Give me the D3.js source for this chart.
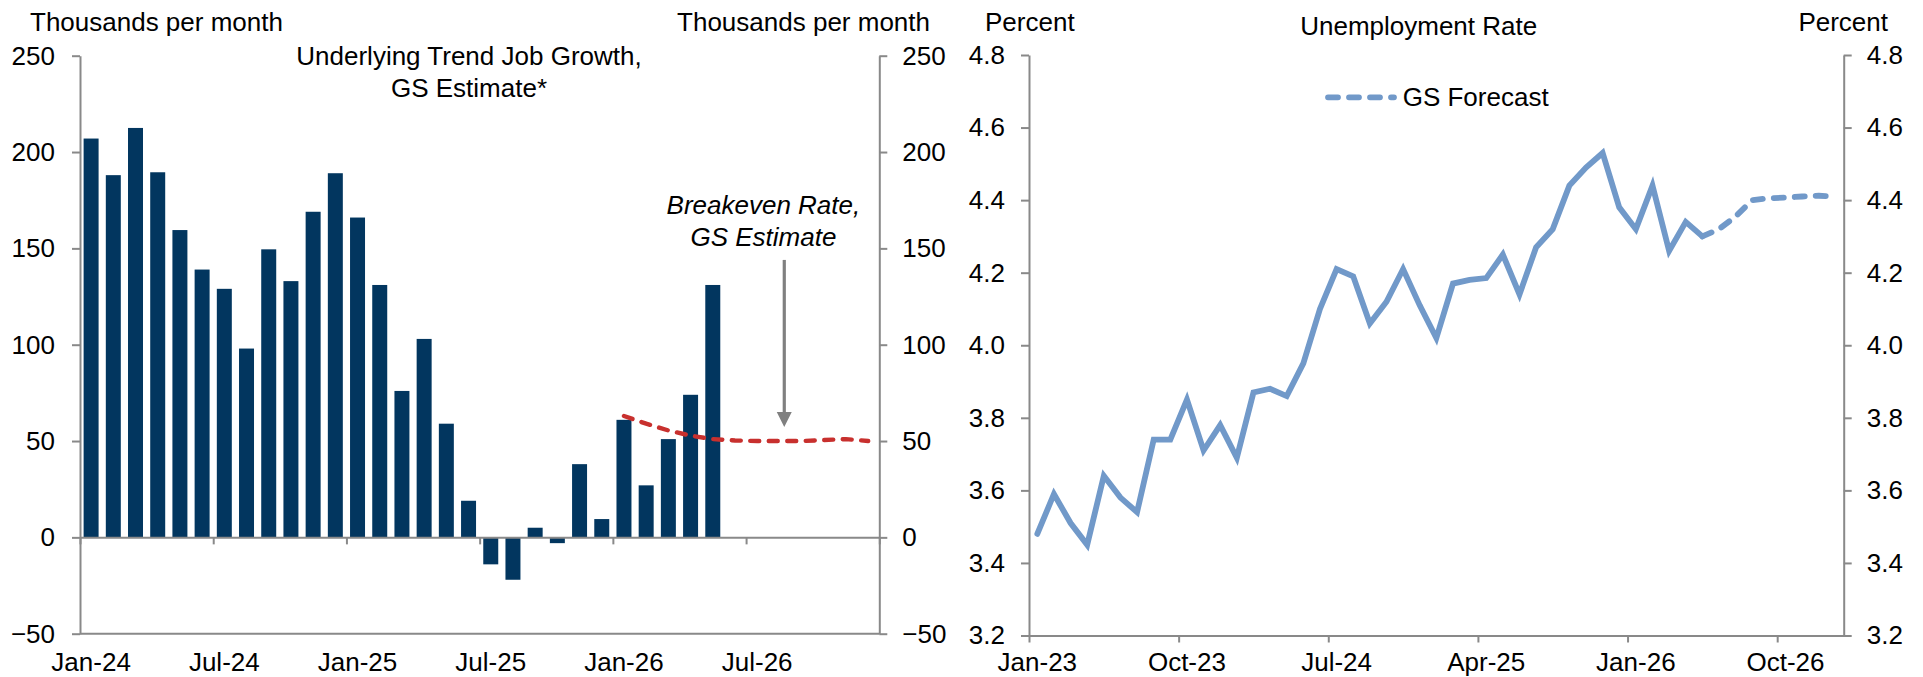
<!DOCTYPE html>
<html>
<head>
<meta charset="utf-8">
<script src="https://cdn.jsdelivr.net/npm/d3@7"></script>
<style>
  html, body { margin: 0; padding: 0; background: #fff; }
  svg { display: block; }
  text { font-family: "Liberation Sans", Arial, Helvetica, sans-serif; fill: #000; }
</style>
</head>
<body>
<svg id="chart" width="1923" height="677"></svg>
<script>
// ---- Left panel: underlying trend job growth (thousands per month) ----
const jobMonthsCount = 36;                    // Jan-24 .. Dec-26
const trendJobGrowth = [207, 188, 212.5, 189.5, 159.5, 139, 129, 98, 149.5, 133, 169, 189,
                        166, 131, 76, 103, 59, 19, -14, -22, 5, -3, 38, 9.5,
                        61, 27, 51, 74, 131];  // Jan-24 .. May-26
const breakevenStart = 24;                    // Jan-26
const breakevenRate = [63, 59, 55.5, 52.8, 51, 50.3, 50, 50, 50, 50.5, 51, 50]; // Jan-26 .. Dec-26
const jobTicks = [-50, 0, 50, 100, 150, 200, 250];
const jobXLabels = ["Jan-24", "Jul-24", "Jan-25", "Jul-25", "Jan-26", "Jul-26"];
const jobXLabelIdx = [0, 6, 12, 18, 24, 30];

// ---- Right panel: unemployment rate (percent) ----
const urMonthsCount = 49;                     // Jan-23 .. Jan-27
const unemploymentRate = [3.48, 3.59, 3.51, 3.45, 3.64, 3.58, 3.54, 3.74, 3.74, 3.85, 3.71, 3.78,
                          3.69, 3.87, 3.88, 3.86, 3.95, 4.10, 4.21, 4.19, 4.06, 4.12, 4.21, 4.11,
                          4.02, 4.17, 4.18, 4.185, 4.25, 4.14, 4.27, 4.32, 4.44, 4.49, 4.53, 4.38,
                          4.32, 4.44, 4.26, 4.34, 4.30];   // Jan-23 .. May-26
const forecastStart = 40;                     // May-26
const gsForecast = [4.30, 4.32, 4.355, 4.40, 4.405, 4.407, 4.41, 4.412, 4.41]; // May-26 .. Jan-27
const urTicks = [3.2, 3.4, 3.6, 3.8, 4.0, 4.2, 4.4, 4.6, 4.8];
const urXLabels = ["Jan-23", "Oct-23", "Jul-24", "Apr-25", "Jan-26", "Oct-26"];
const urXLabelIdx = [0, 9, 18, 27, 36, 45];

// ---- styling ----
const FONT = 26;
const AXIS = "#898989";
const NAVY = "#02365f";
const RED = "#c8302e";
const BLUE = "#7199c9";

const svg = d3.select("#chart");

function styleAxis(g) {
  g.select(".domain").attr("stroke", AXIS).attr("stroke-width", 2);
  g.selectAll(".tick line").attr("stroke", AXIS).attr("stroke-width", 2);
  g.selectAll(".tick text").attr("font-size", FONT).attr("fill", "#000")
    .attr("font-family", "Liberation Sans, Arial, sans-serif");
}

// ================= Left panel =================
{
  const L = 80, R = 879.3, T = 55.7, B = 633.7;
  const x = d3.scaleLinear().domain([0, jobMonthsCount]).range([L, R]);
  const y = d3.scaleLinear().domain([-50, 250]).range([B, T]);
  const step = x(1) - x(0);
  const barW = step * 0.675;
  const g = svg.append("g");

  // bars
  g.selectAll("rect.bar").data(trendJobGrowth).join("rect")
    .attr("class", "bar")
    .attr("x", (d, i) => x(i + 0.5) - barW / 2)
    .attr("width", barW)
    .attr("y", d => y(Math.max(0, d)))
    .attr("height", d => Math.abs(y(d) - y(0)))
    .attr("fill", NAVY);

  // bottom frame line at -50
  g.append("line").attr("x1", L).attr("x2", R).attr("y1", y(-50)).attr("y2", y(-50))
    .attr("stroke", AXIS).attr("stroke-width", 2);

  // category axis along zero
  const xAxis = d3.axisBottom(x).tickValues(jobXLabelIdx.concat([jobMonthsCount]))
    .tickFormat("").tickSize(7).tickSizeOuter(0);
  g.append("g").attr("transform", `translate(0,${y(0)})`).call(xAxis).call(styleAxis);

  // month labels centred on their category
  g.selectAll("text.xl").data(jobXLabels).join("text")
    .attr("class", "xl")
    .attr("x", (d, i) => x(jobXLabelIdx[i] + 0.5))
    .attr("y", 671)
    .attr("text-anchor", "middle")
    .attr("font-size", FONT)
    .text(d => d);

  // y axes (left and right)
  const fmt = d3.format("d");
  g.append("g").attr("transform", `translate(${L},0)`)
    .call(d3.axisLeft(y).tickValues(jobTicks).tickFormat(fmt).tickSize(8).tickPadding(17).tickSizeOuter(0))
    .call(styleAxis);
  g.append("g").attr("transform", `translate(${R},0)`)
    .call(d3.axisRight(y).tickValues(jobTicks).tickFormat(fmt).tickSize(8).tickPadding(15).tickSizeOuter(0))
    .call(styleAxis);

  // breakeven estimate (dashed)
  const line = d3.line().x((d, i) => x(breakevenStart + i + 0.5)).y(d => y(d));
  g.append("path").datum(breakevenRate)
    .attr("d", line)
    .attr("fill", "none")
    .attr("stroke", RED)
    .attr("stroke-width", 4.4)
    .attr("stroke-linecap", "round")
    .attr("stroke-dasharray", "9,9.5");

  // arrow pointing at the breakeven line
  const ax = x(31.72);
  const arrowTop = y(144), arrowTip = y(57.3);
  g.append("line").attr("x1", ax).attr("x2", ax).attr("y1", arrowTop).attr("y2", arrowTip - 12)
    .attr("stroke", "#808080").attr("stroke-width", 3.2);
  g.append("path")
    .attr("d", `M${ax - 7.5},${arrowTip - 15} L${ax + 7.5},${arrowTip - 15} L${ax},${arrowTip} Z`)
    .attr("fill", "#808080");

  // annotation text
  const bx = x(30.78);
  const bt = g.append("text").attr("text-anchor", "middle").attr("font-size", FONT)
    .attr("font-style", "italic");
  bt.append("tspan").attr("x", bx).attr("y", 214).text("Breakeven Rate,");
  bt.append("tspan").attr("x", bx).attr("y", 245.5).text("GS Estimate");

  // titles
  const tt = g.append("text").attr("text-anchor", "middle").attr("font-size", FONT);
  tt.append("tspan").attr("x", 469).attr("y", 65).text("Underlying Trend Job Growth,");
  tt.append("tspan").attr("x", 469).attr("y", 96.7).text("GS Estimate*");

  g.append("text").attr("x", 30).attr("y", 30.7).attr("font-size", FONT).text("Thousands per month");
  g.append("text").attr("x", 930).attr("y", 30.7).attr("font-size", FONT)
    .attr("text-anchor", "end").text("Thousands per month");
}

// ================= Right panel =================
{
  const L = 1029, R = 1843.7, T = 55, B = 635.5;
  const x = d3.scaleLinear().domain([0, urMonthsCount]).range([L, R]);
  const y = d3.scaleLinear().domain([3.2, 4.8]).range([B, T]);
  const g = svg.append("g");

  const xAxis = d3.axisBottom(x).tickValues(urXLabelIdx).tickFormat("").tickSize(7).tickSizeOuter(0);
  g.append("g").attr("transform", `translate(0,${B})`).call(xAxis).call(styleAxis);

  g.selectAll("text.xl").data(urXLabels).join("text")
    .attr("class", "xl")
    .attr("x", (d, i) => x(urXLabelIdx[i] + 0.5))
    .attr("y", 671)
    .attr("text-anchor", "middle")
    .attr("font-size", FONT)
    .text(d => d);

  const fmt = d3.format(".1f");
  g.append("g").attr("transform", `translate(${L},0)`)
    .call(d3.axisLeft(y).tickValues(urTicks).tickFormat(fmt).tickSize(8).tickPadding(16).tickSizeOuter(0))
    .call(styleAxis);
  g.append("g").attr("transform", `translate(${R},0)`)
    .call(d3.axisRight(y).tickValues(urTicks).tickFormat(fmt).tickSize(8).tickPadding(15).tickSizeOuter(0))
    .call(styleAxis);

  // actual rate
  const actual = d3.line().x((d, i) => x(i + 0.5)).y(d => y(d));
  g.append("path").datum(unemploymentRate)
    .attr("d", actual)
    .attr("fill", "none")
    .attr("stroke", BLUE)
    .attr("stroke-width", 5.8)
    .attr("stroke-linejoin", "miter")
    .attr("stroke-linecap", "round");

  // forecast (dashed)
  const fc = d3.line().x((d, i) => x(forecastStart + i + 0.5)).y(d => y(d));
  g.append("path").datum(gsForecast)
    .attr("d", fc)
    .attr("fill", "none")
    .attr("stroke", BLUE)
    .attr("stroke-width", 5.8)
    .attr("stroke-linecap", "round")
    .attr("stroke-dasharray", "10,11");

  // legend
  g.append("line").attr("x1", 1328).attr("x2", 1394).attr("y1", 97.3).attr("y2", 97.3)
    .attr("stroke", BLUE).attr("stroke-width", 5.8).attr("stroke-linecap", "round")
    .attr("stroke-dasharray", "10,11");
  g.append("text").attr("x", 1402.7).attr("y", 106).attr("font-size", FONT).text("GS Forecast");

  // titles
  g.append("text").attr("x", 1418.7).attr("y", 35).attr("font-size", FONT)
    .attr("text-anchor", "middle").text("Unemployment Rate");
  g.append("text").attr("x", 985).attr("y", 30.7).attr("font-size", FONT).text("Percent");
  g.append("text").attr("x", 1888).attr("y", 30.7).attr("font-size", FONT)
    .attr("text-anchor", "end").text("Percent");
}
</script>
</body>
</html>
